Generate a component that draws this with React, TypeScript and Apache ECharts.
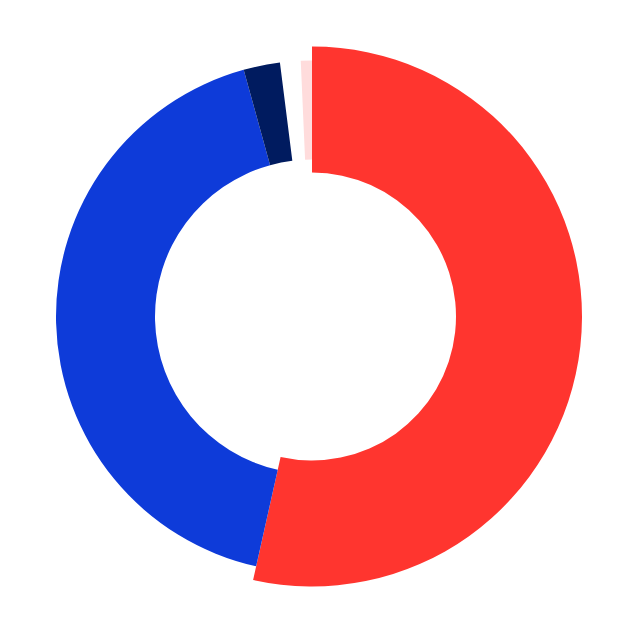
import * as echarts from "echarts";
import { useEffect, useRef } from "react";

const sliceNames = ["Red", "Blue", "Navy", "Gap", "Pink"];
const sliceValues = [53.5, 42.2, 2.3, 1.3, 0.7];

const palette = ["#ff352f", "#0e3bd9", "#001b5f", "rgba(0,0,0,0)", "#ffdcdc"];
const TRANSPARENT = "rgba(0,0,0,0)";

// the leading slice sits on a wider ring than the rest
const leadIndex = 0;

export default function App() {
	const chartRef = useRef<HTMLDivElement>(null);

	useEffect(() => {
		if (!chartRef.current) return;
		const chart = echarts.init(chartRef.current, null, { renderer: "svg" });

		const ringData = (showLead: boolean) =>
			sliceNames.map((name, i) => {
				const visible = showLead ? i === leadIndex : i !== leadIndex;
				return {
					name,
					value: sliceValues[i],
					itemStyle: { color: visible ? palette[i] : TRANSPARENT }
				};
			});

		const common = {
			type: "pie",
			center: [312, 316.5],
			startAngle: 90,
			clockwise: true,
			silent: true,
			label: { show: false },
			labelLine: { show: false },
			emphasis: { disabled: true },
			itemStyle: { borderWidth: 0 }
		};

		chart.setOption({
			animation: false,
			backgroundColor: "#ffffff",
			series: [
				{ ...common, name: "lead", radius: [144, 270], data: ringData(true) },
				{ ...common, name: "rest", radius: [157, 256], data: ringData(false) }
			]
		});

		return () => chart.dispose();
	}, []);

	return (
		<div
			ref={chartRef}
			style={{ position: "fixed", left: 0, top: 0, width: 640, height: 640 }}
		/>
	);
}
